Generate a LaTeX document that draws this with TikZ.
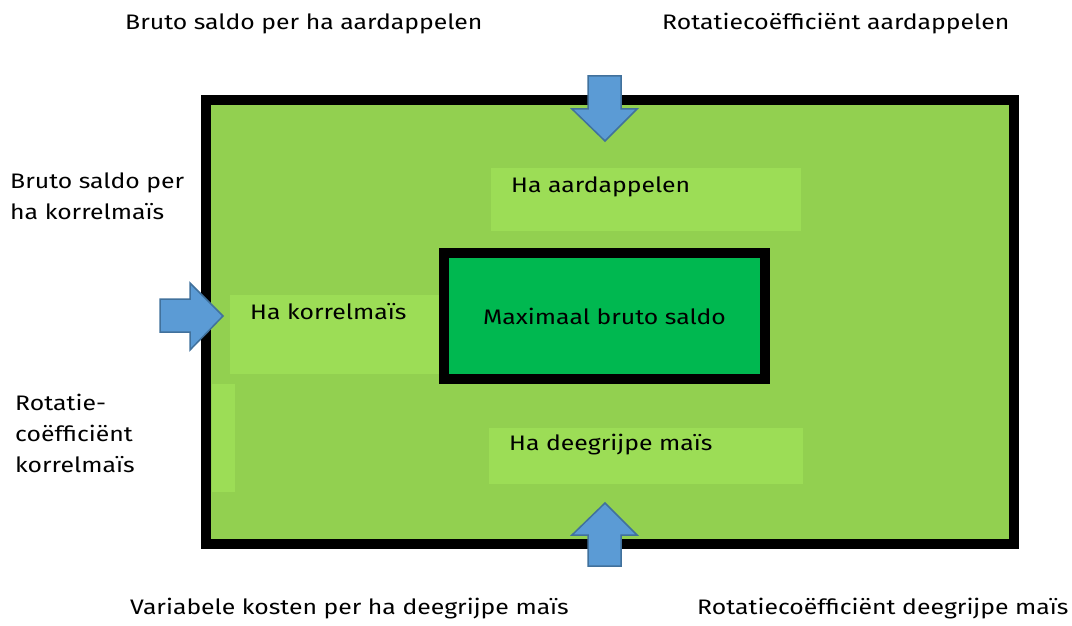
\documentclass[tikz,border=0pt]{standalone}
\usepackage{fontspec}
\setmainfont{Fira Sans}[FakeStretch=1.18]
\definecolor{outergreen}{HTML}{92D050}
\definecolor{lightgreen}{HTML}{9CDD56}
\definecolor{innergreen}{HTML}{00B850}
\definecolor{arrowblue}{HTML}{5B9BD5}
\definecolor{arrowedge}{HTML}{41719C}
\tikzset{
  lbl/.style={anchor=west, inner sep=0pt, font=\fontsize{21}{31}\selectfont, align=left},
  blockarrow/.style={fill=arrowblue, draw=arrowedge, line width=1.5pt, line join=miter},
  lightrect/.style={fill=lightgreen, draw=none},
}
\begin{document}
\begin{tikzpicture}[x=1pt,y=-1pt]
\useasboundingbox (0,0) rectangle (1072,626);
% outer frame
\fill[outergreen] (206,100) rectangle (1014,544);
\fill[lightrect] (491,168) rectangle (801,231);
\fill[lightrect] (489,428) rectangle (803,484);
\fill[lightrect] (230,295) rectangle (440,374);
\fill[lightrect] (212,384) rectangle (235,492);
\draw[line width=10pt] (206,100) rectangle (1014,544);
% inner box
\draw[line width=10pt, fill=innergreen] (444,252.5) rectangle (765,379);
% arrows
\draw[blockarrow] (588,76) -- (621,76) -- (621,109) -- (637,109) -- (605,141) -- (572,109) -- (588,109) -- cycle;
\draw[blockarrow] (588,566) -- (621,566) -- (621,535) -- (637,535) -- (605,503) -- (572,535) -- (588,535) -- cycle;
\draw[blockarrow] (160,299) -- (160,332) -- (190,332) -- (190,350) -- (223,316) -- (190,283) -- (190,299) -- cycle;
% labels
\node[lbl] (t1) at (125,24) {Bruto saldo per ha aardappelen};
\node[lbl] (t2) at (662,24) {Rotatiecoëfficiënt aardappelen};
\node[lbl] (t3) at (10,196) {Bruto saldo per\\ha korrelmaïs};
\node[lbl] (t4) at (15,433) {Rotatie-\\coëfficiënt\\korrelmaïs};
\node[lbl] (t5) at (130,609) {Variabele kosten per ha deegrijpe maïs};
\node[lbl] (t6) at (697,609) {Rotatiecoëfficiënt deegrijpe maïs};
\node[lbl] (ha1) at (511,187) {Ha aardappelen};
\node[lbl] (ha2) at (250,312) {Ha korrelmaïs};
\node[lbl] (mx) at (483,316) {Maximaal bruto saldo};
\node[lbl] (ha3) at (509,445) {Ha deegrijpe maïs};
\end{tikzpicture}
\end{document}
